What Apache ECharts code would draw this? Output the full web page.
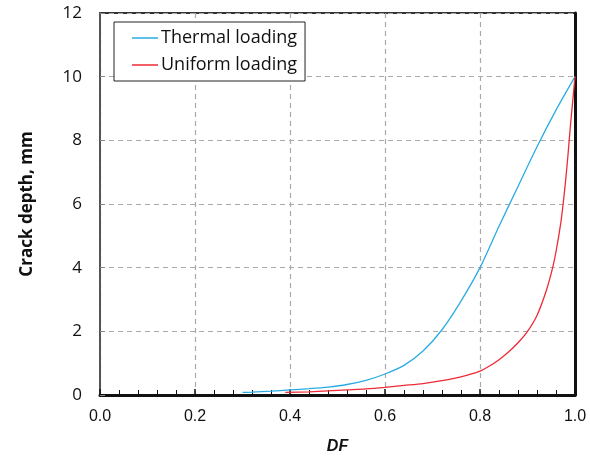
<!DOCTYPE html>
<html>
<head>
<meta charset="utf-8">
<script src="https://cdn.jsdelivr.net/npm/echarts@6/dist/echarts.min.js"></script>
<style>html,body{margin:0;padding:0;background:#fff}#c{width:590px;height:466px}</style>
</head>
<body>
<div id="c"></div>
<script>
const thermalDF = [0.30,0.32,0.36,0.40,0.44,0.48,0.52,0.56,0.60,0.64,0.68,0.72,0.76,0.80,0.84,0.88,0.92,0.96,1.00];
const thermalDepth = [0.08,0.09,0.12,0.16,0.20,0.25,0.33,0.46,0.66,0.93,1.38,2.05,2.95,4.0,5.3,6.55,7.8,8.95,10.0];
const uniformDF = [0.39,0.44,0.48,0.52,0.56,0.60,0.64,0.68,0.72,0.76,0.80,0.82,0.84,0.86,0.88,0.90,0.92,0.94,0.953,0.96,0.97,0.975,0.98,0.985,0.99,0.995,1.00];
const uniformDepth = [0.08,0.10,0.13,0.16,0.19,0.24,0.30,0.36,0.45,0.57,0.75,0.91,1.11,1.35,1.64,2.0,2.5,3.3,4.0,4.5,5.4,6.0,6.7,7.5,8.4,9.2,10.0];
const seriesNames = ['Thermal loading','Uniform loading'];
const xTicks = {min:0, max:1, interval:0.2};
const yTicks = {min:0, max:12, interval:2};

const pairs = (xs, ys) => xs.map((x,i)=>[x, ys[i]]);
const chart = echarts.init(document.getElementById('c'), null, {renderer:'canvas'});
const labelFont = 'Liberation Sans';
const calibri = '"Open Sans", "Noto Sans", sans-serif';
chart.setOption({
  animation:false,
  grid:{left:100, right:15, top:13, bottom:71, show:true, borderColor:'#333', borderWidth:2, backgroundColor:'#fff'},
  legend:{
    orient:'vertical', left:114, top:22,
    data:seriesNames,
    borderColor:'#222', borderWidth:1, backgroundColor:'#fff',
    padding:[7,8,7,18], itemGap:9, itemWidth:26, itemHeight:1.5, icon:'rect',
    textStyle:{fontFamily:calibri, fontSize:18, color:'#111', padding:[0,0,0,-2]}
  },
  xAxis:{
    type:'value', min:xTicks.min, max:xTicks.max, interval:xTicks.interval,
    name:'DF', nameLocation:'middle', nameGap:44,
    nameTextStyle:{fontFamily:labelFont, fontSize:16, fontWeight:'bold', fontStyle:'italic', color:'#111'},
    axisLine:{show:true, onZero:false, lineStyle:{color:'#111', width:3}},
    axisTick:{show:true, inside:true, length:6, lineStyle:{color:'#111', width:1.5}},
    minorTick:{show:true, splitNumber:5, length:5, lineStyle:{color:'#111', width:1}},
    axisLabel:{fontFamily:labelFont, fontSize:16, color:'#111', margin:14, formatter:v=>v.toFixed(1)},
    splitLine:{show:true, lineStyle:{color:'#aaa', type:[5,4], width:1.2}}
  },
  yAxis:[{
    type:'value', min:yTicks.min, max:yTicks.max, interval:yTicks.interval,
    name:'Crack depth, mm', nameLocation:'middle', nameGap:64,
    nameTextStyle:{fontFamily:calibri, fontSize:17, fontWeight:'bold', color:'#111'},
    axisLine:{show:true, lineStyle:{color:'#555', width:2}},
    axisTick:{show:true, inside:true, length:5, lineStyle:{color:'#888'}},
    axisLabel:{fontFamily:calibri, fontSize:17, color:'#111', margin:18},
    splitLine:{show:true, lineStyle:{color:'#aaa', type:[5,4], width:1.2}}
  },{
    type:'value', min:yTicks.min, max:yTicks.max, interval:yTicks.interval, position:'right',
    axisLine:{show:true, lineStyle:{color:'#111', width:3}},
    axisTick:{show:false}, axisLabel:{show:false}, splitLine:{show:false}
  }],
  series:[
    {name:seriesNames[0], type:'line', data:pairs(thermalDF, thermalDepth), showSymbol:false, smooth:0.25,
     lineStyle:{color:'#2aace2', width:1.3}, itemStyle:{color:'#2aace2'}},
    {name:seriesNames[1], type:'line', data:pairs(uniformDF, uniformDepth), showSymbol:false, smooth:0.25,
     lineStyle:{color:'#ee2a36', width:1.3}, itemStyle:{color:'#ee2a36'}}
  ]
});
</script>
</body>
</html>
